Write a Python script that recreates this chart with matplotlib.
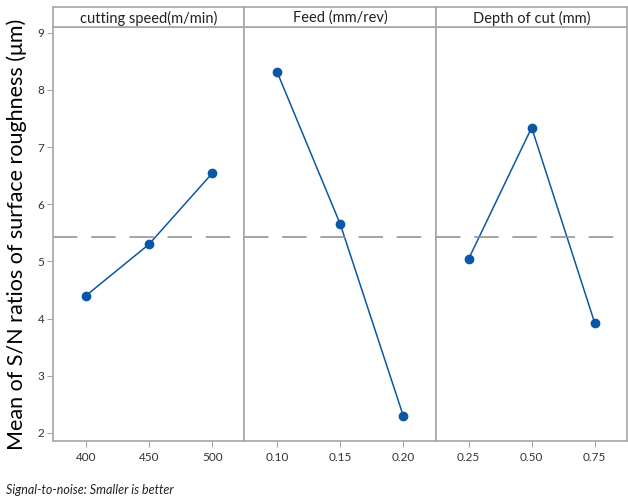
import matplotlib.pyplot as plt

plt.rcParams['font.family'] = ['Lato', 'DejaVu Sans']

# factor levels and mean S/N ratios
factors = ['cutting speed(m/min)', 'Feed (mm/rev)', 'Depth of cut (mm)']
speed_levels = ['400', '450', '500']
feed_levels = ['0.10', '0.15', '0.20']
depth_levels = ['0.25', '0.50', '0.75']
speed_sn = [4.40, 5.30, 6.54]
feed_sn = [8.31, 5.65, 2.29]
depth_sn = [5.04, 7.34, 3.92]

levels = [speed_levels, feed_levels, depth_levels]
values = [speed_sn, feed_sn, depth_sn]
grand_mean = sum(speed_sn + feed_sn + depth_sn) / 9

blue = '#0B57A4'
frame = '#A6A6A6'

fig = plt.figure(figsize=(6.28, 5.01), dpi=100)
W, H = 628, 501
left, right = 53, 627
bottom, top, strip_top = 441, 27, 7
pw = (right - left) / 3

for i in range(3):
    x0 = left + i * pw
    ax = fig.add_axes([x0 / W, 1 - bottom / H, pw / W, (bottom - top) / H])
    pos = [1, 2, 3]
    ax.plot(pos, values[i], color=blue, lw=1.1, marker='o', ms=6,
            markerfacecolor=blue, markeredgecolor=blue)
    ax.axhline(grand_mean, color='#8C8C8C', lw=1.1, dashes=(16, 9))
    ax.set_xlim(0.48, 3.51)
    ax.set_ylim(1.86, 9.1)
    ax.set_xticks(pos)
    ax.set_xticklabels(levels[i], fontsize=8.5, color='#333333')
    ax.set_yticks(range(2, 10))
    if i == 0:
        ax.set_yticklabels([str(v) for v in range(2, 10)], fontsize=8.5, color='#333333')
        ax.tick_params(axis='y', length=4, color=frame, pad=2)
    else:
        ax.set_yticklabels([])
        ax.tick_params(axis='y', length=0)
    ax.tick_params(axis='x', length=4, color=frame, pad=4)
    for s in ax.spines.values():
        s.set_color(frame)
        s.set_linewidth(1.2)

    sax = fig.add_axes([x0 / W, 1 - top / H, pw / W, (top - strip_top) / H])
    sax.set_xticks([])
    sax.set_yticks([])
    for s in sax.spines.values():
        s.set_color(frame)
        s.set_linewidth(1.2)
    sax.text(0.5, 0.45, factors[i], ha='center', va='center', fontsize=10.5,
             color='#222222', transform=sax.transAxes)

fig.text(17 / W, 1 - 234 / H, 'Mean of S/N ratios of surface roughness (μm)',
         rotation=90, ha='center', va='center', fontsize=15.5, color='black')
fig.text(6 / W, 1 - 490 / H, 'Signal-to-noise: Smaller is better',
         ha='left', va='center', fontsize=9, style='italic', color='#222222')

fig.savefig('out.png', dpi=100)
